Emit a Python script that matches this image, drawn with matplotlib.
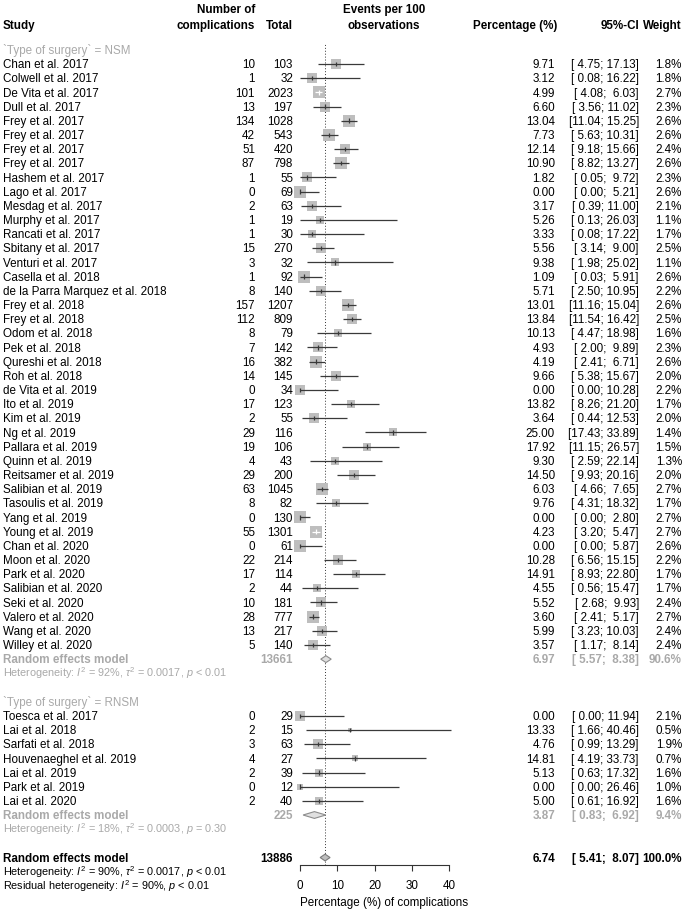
import matplotlib
matplotlib.use("Agg")
import matplotlib.pyplot as plt
import numpy as np

plt.rcParams['font.family'] = ['Liberation Sans', 'DejaVu Sans']
plt.rcParams['mathtext.fontset'] = 'custom'
plt.rcParams['mathtext.rm'] = 'Liberation Sans'
plt.rcParams['mathtext.it'] = 'Liberation Sans:italic'
plt.rcParams['mathtext.bf'] = 'Liberation Sans:bold'

# ---------------- data ----------------
nsm_studies = ["Chan et al. 2017", "Colwell et al. 2017", "De Vita et al. 2017", "Dull et al. 2017",
               "Frey et al. 2017", "Frey et al. 2017", "Frey et al. 2017", "Frey et al. 2017",
               "Hashem et al. 2017", "Lago et al. 2017", "Mesdag et al. 2017", "Murphy et al. 2017",
               "Rancati et al. 2017", "Sbitany et al. 2017", "Venturi et al. 2017", "Casella et al. 2018",
               "de la Parra Marquez et al. 2018", "Frey et al. 2018", "Frey et al. 2018", "Odom et al. 2018",
               "Pek et al. 2018", "Qureshi et al. 2018", "Roh et al. 2018", "de Vita et al. 2019",
               "Ito et al. 2019", "Kim et al. 2019", "Ng et al. 2019", "Pallara et al. 2019",
               "Quinn et al. 2019", "Reitsamer et al. 2019", "Salibian et al. 2019", "Tasoulis et al. 2019",
               "Yang et al. 2019", "Young et al. 2019", "Chan et al. 2020", "Moon et al. 2020",
               "Park et al. 2020", "Salibian et al. 2020", "Seki et al. 2020", "Valero et al. 2020",
               "Wang et al. 2020", "Willey et al. 2020"]
nsm_events = [10, 1, 101, 13, 134, 42, 51, 87, 1, 0, 2, 1, 1, 15, 3, 1, 8, 157, 112, 8, 7, 16, 14, 0,
              17, 2, 29, 19, 4, 29, 63, 8, 0, 55, 0, 22, 17, 2, 10, 28, 13, 5]
nsm_total = [103, 32, 2023, 197, 1028, 543, 420, 798, 55, 69, 63, 19, 30, 270, 32, 92, 140, 1207, 809,
             79, 142, 382, 145, 34, 123, 55, 116, 106, 43, 200, 1045, 82, 130, 1301, 61, 214, 114, 44,
             181, 777, 217, 140]
nsm_est = [9.71, 3.12, 4.99, 6.60, 13.04, 7.73, 12.14, 10.90, 1.82, 0.00, 3.17, 5.26, 3.33, 5.56, 9.38,
           1.09, 5.71, 13.01, 13.84, 10.13, 4.93, 4.19, 9.66, 0.00, 13.82, 3.64, 25.00, 17.92, 9.30,
           14.50, 6.03, 9.76, 0.00, 4.23, 0.00, 10.28, 14.91, 4.55, 5.52, 3.60, 5.99, 3.57]
nsm_lower = [4.75, 0.08, 4.08, 3.56, 11.04, 5.63, 9.18, 8.82, 0.05, 0.00, 0.39, 0.13, 0.08, 3.14, 1.98,
             0.03, 2.50, 11.16, 11.54, 4.47, 2.00, 2.41, 5.38, 0.00, 8.26, 0.44, 17.43, 11.15, 2.59,
             9.93, 4.66, 4.31, 0.00, 3.20, 0.00, 6.56, 8.93, 0.56, 2.68, 2.41, 3.23, 1.17]
nsm_upper = [17.13, 16.22, 6.03, 11.02, 15.25, 10.31, 15.66, 13.27, 9.72, 5.21, 11.00, 26.03, 17.22, 9.00,
             25.02, 5.91, 10.95, 15.04, 16.42, 18.98, 9.89, 6.71, 15.67, 10.28, 21.20, 12.53, 33.89,
             26.57, 22.14, 20.16, 7.65, 18.32, 2.80, 5.47, 5.87, 15.15, 22.80, 15.47, 9.93, 5.17, 10.03,
             8.14]
nsm_weight = [1.8, 1.8, 2.7, 2.3, 2.6, 2.6, 2.4, 2.6, 2.3, 2.6, 2.1, 1.1, 1.7, 2.5, 1.1, 2.6, 2.2, 2.6,
              2.5, 1.6, 2.3, 2.6, 2.0, 2.2, 1.7, 2.0, 1.4, 1.5, 1.3, 2.0, 2.7, 1.7, 2.7, 2.7, 2.6, 2.2,
              1.7, 1.7, 2.4, 2.7, 2.4, 2.4]

rnsm_studies = ["Toesca et al. 2017", "Lai et al. 2018", "Sarfati et al. 2018", "Houvenaeghel et al. 2019",
                "Lai et al. 2019", "Park et al. 2019", "Lai et al. 2020"]
rnsm_events = [0, 2, 3, 4, 2, 0, 2]
rnsm_total = [29, 15, 63, 27, 39, 12, 40]
rnsm_est = [0.00, 13.33, 4.76, 14.81, 5.13, 0.00, 5.00]
rnsm_lower = [0.00, 1.66, 0.99, 4.19, 0.63, 0.00, 0.61]
rnsm_upper = [11.94, 40.46, 13.29, 33.73, 17.32, 26.46, 16.92]
rnsm_weight = [2.1, 0.5, 1.9, 0.7, 1.6, 1.0, 1.6]

group_labels = ["`Type of surgery` = NSM", "`Type of surgery` = RNSM"]
group_re_est = [6.97, 3.87]
group_re_lower = [5.57, 0.83]
group_re_upper = [8.38, 6.92]
group_re_total = [13661, 225]
group_re_weight = [90.6, 9.4]
group_het = [r"Heterogeneity: $I^2$ = 92%, $\tau^2$ = 0.0017, $p$ < 0.01",
             r"Heterogeneity: $I^2$ = 18%, $\tau^2$ = 0.0003, $p$ = 0.30"]

overall_est, overall_lower, overall_upper = 6.74, 5.41, 8.07
overall_total = 13886
overall_weight = 100.0
overall_het = [r"Heterogeneity: $I^2$ = 90%, $\tau^2$ = 0.0017, $p$ < 0.01",
               r"Residual heterogeneity: $I^2$ = 90%, $p$ < 0.01"]

x_ticks = [0, 10, 20, 30, 40]
x_label = "Percentage (%) of complications"

# ---------------- layout ----------------
W, H = 685, 911
Y0, DY = 64.0, 14.17          # pixel y of first study row, row spacing
PX0, PXU = 300.0, 3.725       # pixel x of 0 %, pixels per %
FS = 8.4
FSH = 7.8
GRAY = '#a9a9a9'
SQ = '#bebebe'
LC = '#3a3a3a'
BASE = 4.2 / DY               # baseline offset (rows) to vertically center caps


def row_of(ypx):
    return (ypx - Y0) / DY


fig = plt.figure(figsize=(W / 100, H / 100), dpi=100)
tax = fig.add_axes([0, 0, 1, 1])
tax.set_xlim(0, W)
tax.set_ylim(row_of(H), row_of(0))
tax.axis('off')

XMAX = 45
ax_left, ax_right = PX0, PX0 + XMAX * PXU
ax_top, ax_bot = 43.0, 865.0
fax = fig.add_axes([ax_left / W, 1 - ax_bot / H, (ax_right - ax_left) / W, (ax_bot - ax_top) / H])
fax.set_xlim(0, XMAX)
fax.set_ylim(row_of(ax_bot), row_of(ax_top))
fax.patch.set_visible(False)
for s in ['top', 'right', 'left']:
    fax.spines[s].set_visible(False)
fax.spines['bottom'].set_bounds(x_ticks[0], x_ticks[-1])
fax.spines['bottom'].set_color('#333333')
fax.spines['bottom'].set_linewidth(0.8)
fax.set_yticks([])
fax.set_xticks(x_ticks)
fax.set_xticklabels([str(t) for t in x_ticks])
fax.tick_params(axis='x', direction='out', length=4.5, width=0.8, color='#333333', pad=6.5, labelsize=FS)
fax.set_xlabel(x_label, fontsize=FS, labelpad=3.5)


def txt(x, r, s, ha='left', color='black', bold=False, size=FS):
    tax.text(x, r + BASE * size / FS, s, ha=ha, va='baseline', color=color,
             fontsize=size, fontweight='bold' if bold else 'normal')


def ci_str(lo, hi):
    return "[" + f"{lo:5.2f}" + "; " + f"{hi:5.2f}" + "]"


def stats_cols(r, est, lo, hi, wt, color='black', bold=False):
    txt(555, r, f"{est:.2f}", ha='right', color=color, bold=bold)
    txt(639, r, ci_str(lo, hi), ha='right', color=color, bold=bold)
    txt(682, r, f"{wt:.1f}%", ha='right', color=color, bold=bold)


def study(r, name, ev, tot, est, lo, hi, wt):
    txt(3, r, name)
    txt(255, r, str(ev), ha='right')
    txt(293, r, str(tot), ha='right')
    stats_cols(r, est, lo, hi, wt)
    side = 11.3 * np.sqrt(wt / 2.7)            # pixels
    fax.scatter([est], [r], marker='s', s=(side * 0.72) ** 2, color=SQ, linewidths=0,
                zorder=2, clip_on=False)
    half = side / 2 / PXU
    inside = (lo >= est - half) and (hi <= est + half)
    c = 'white' if inside else LC
    fax.hlines(r, lo, hi, color=c, lw=0.9, zorder=3, clip_on=False)
    th = 2.2 / DY
    fax.vlines(est, r - th, r + th, color=c, lw=0.9, zorder=3, clip_on=False)


def diamond(r, est, lo, hi, fc, ec):
    h = 3.4 / DY
    fax.fill([lo, est, hi, est], [r, r - h, r, r + h], facecolor=fc, edgecolor=ec, lw=0.8,
             zorder=3, clip_on=False)


# ---------------- header ----------------
h1, h2 = row_of(9), row_of(24.5)
txt(3, h2, "Study", bold=True)
txt(255, h1, "Number of", ha='right', bold=True)
txt(255, h2, "complications", ha='right', bold=True)
txt(293, h2, "Total", ha='right', bold=True)
txt(384, h1, "Events per 100", ha='center', bold=True)
txt(384, h2, "observations", ha='center', bold=True)
txt(557, h2, "Percentage (%)", ha='right', bold=True)
txt(639, h2, "95%-CI", ha='right', bold=True)
txt(682, h2, "Weight", ha='right', bold=True)

# ---------------- groups ----------------
groups = [
    (nsm_studies, nsm_events, nsm_total, nsm_est, nsm_lower, nsm_upper, nsm_weight),
    (rnsm_studies, rnsm_events, rnsm_total, rnsm_est, rnsm_lower, rnsm_upper, rnsm_weight),
]
r = -1
for gi, g in enumerate(groups):
    txt(3, r, group_labels[gi], color=GRAY)
    r += 1
    for name, ev, tot, est, lo, hi, wt in zip(*g):
        study(r, name, ev, tot, est, lo, hi, wt)
        r += 1
    txt(3, r, "Random effects model", color=GRAY, bold=True)
    txt(293, r, str(group_re_total[gi]), ha='right', color=GRAY, bold=True)
    stats_cols(r, group_re_est[gi], group_re_lower[gi], group_re_upper[gi], group_re_weight[gi],
               color=GRAY, bold=True)
    diamond(r, group_re_est[gi], group_re_lower[gi], group_re_upper[gi], '#e0e0e0', '#8c8c8c')
    r += 1
    txt(3, r, group_het[gi], color=GRAY, size=FSH)
    r += 2

# ---------------- overall ----------------
txt(3, r, "Random effects model", bold=True)
txt(293, r, str(overall_total), ha='right', bold=True)
stats_cols(r, overall_est, overall_lower, overall_upper, overall_weight, bold=True)
diamond(r, overall_est, overall_lower, overall_upper, '#bebebe', '#7a7a7a')
r += 1
for line in overall_het:
    txt(3, r, line, size=FSH)
    r += 1

fax.axvline(overall_est, color='#333333', lw=0.7, ls=(0, (1, 2)), zorder=1)

fig.savefig("out.png", dpi=100)
